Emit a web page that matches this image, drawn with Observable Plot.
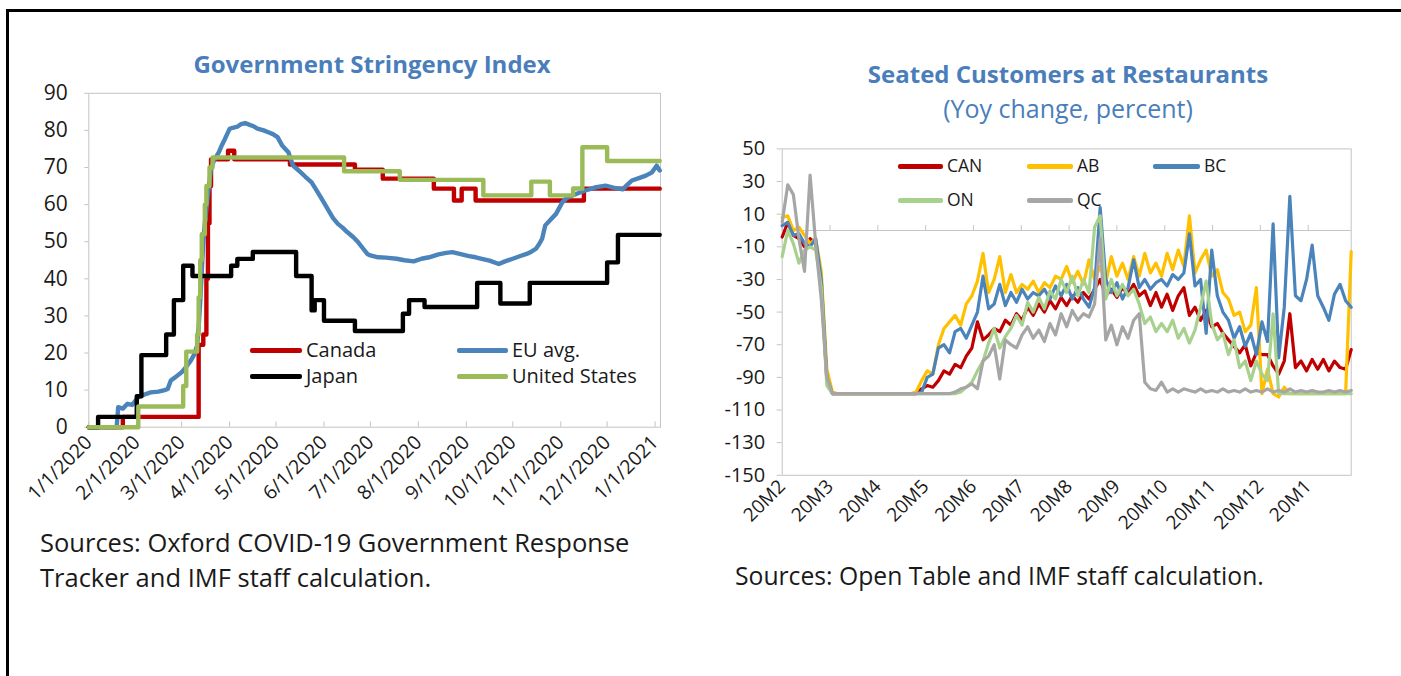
<!DOCTYPE html>
<html><head><meta charset="utf-8">
<script src="https://cdn.jsdelivr.net/npm/d3@7"></script>
<script src="https://cdn.jsdelivr.net/npm/@observablehq/plot@0.6"></script>
<style>
body{margin:0;background:#fff;font-family:"Open Sans",sans-serif;color:#1a1a1a;}
#page{position:relative;width:1401px;height:676px;overflow:hidden;background:#fff;}
.border{position:absolute;left:6px;top:9px;width:1420px;height:700px;border-top:3px solid #000;border-left:3px solid #000;}
.abs{position:absolute;white-space:nowrap;line-height:1;}
.ctr{transform:translate(-50%,-50%);}
.lft{transform:translate(0,-50%);}
.title{font-weight:700;color:#4a7ebb;}
.sw{position:absolute;height:5px;border-radius:2px;}
.plotbox{position:absolute;top:0;}
</style></head>
<body><div id="page"><div class="border"></div></div>
<script>
// ---------------- LEFT: Government Stringency Index ----------------
const leftTitle = "Government Stringency Index";
const leftSource = ["Sources: Oxford COVID-19 Government Response", "Tracker and IMF staff calculation."];
const leftTickDates = ["2020-01-01","2020-02-01","2020-03-01","2020-04-01","2020-05-01","2020-06-01","2020-07-01","2020-08-01","2020-09-01","2020-10-01","2020-11-01","2020-12-01","2021-01-01"];
const leftYTicks = [0,10,20,30,40,50,60,70,80,90];

const canada = [["2020-01-01",0],["2020-01-23",2.78],["2020-03-12",22.2],["2020-03-15",25],["2020-03-17",40],["2020-03-18",55],["2020-03-19",65],["2020-03-20",72.2],["2020-03-31",74.5],["2020-04-04",72.2],["2020-05-10",70.8],["2020-06-21",69.4],["2020-07-09",67],["2020-08-11",64.3],["2020-08-24",61.1],["2020-08-29",64.3],["2020-09-07",61.1],["2020-11-16",64.3],["2021-01-04",64.3]];
const euAvg = [["2020-01-01",0],["2020-01-19",0],["2020-01-20",5.4],["2020-01-23",5.0],["2020-01-26",6.3],["2020-01-29",6.0],["2020-02-02",8.1],["2020-02-06",8.8],["2020-02-10",9.4],["2020-02-15",9.6],["2020-02-19",10.0],["2020-02-21",10.3],["2020-02-23",12.6],["2020-02-26",13.5],["2020-03-01",14.8],["2020-03-04",16.3],["2020-03-07",18.0],["2020-03-09",19.5],["2020-03-11",22.0],["2020-03-12",27.0],["2020-03-13",33.7],["2020-03-14",42.0],["2020-03-15",49.9],["2020-03-16",55.0],["2020-03-17",58.9],["2020-03-18",63.0],["2020-03-20",69.6],["2020-03-22",72.0],["2020-03-25",74.1],["2020-03-27",76.0],["2020-03-29",77.7],["2020-04-01",80.4],["2020-04-03",80.7],["2020-04-06",81.0],["2020-04-08",81.6],["2020-04-11",82.0],["2020-04-14",81.5],["2020-04-16",81.2],["2020-04-19",80.5],["2020-04-23",80.0],["2020-04-26",79.5],["2020-04-29",79.0],["2020-05-02",78.2],["2020-05-05",75.9],["2020-05-07",75.0],["2020-05-09",74.1],["2020-05-12",70.5],["2020-05-14",69.8],["2020-05-17",68.7],["2020-05-20",67.5],["2020-05-24",66.0],["2020-05-28",63.3],["2020-06-01",60.5],["2020-06-04",58.4],["2020-06-07",56.3],["2020-06-10",54.8],["2020-06-13",53.8],["2020-06-16",52.6],["2020-06-20",51.2],["2020-06-23",49.9],["2020-06-26",48.3],["2020-06-29",46.7],["2020-07-01",46.3],["2020-07-06",45.8],["2020-07-11",45.7],["2020-07-18",45.4],["2020-07-23",45.0],["2020-07-29",44.7],["2020-08-03",45.4],["2020-08-08",45.8],["2020-08-14",46.6],["2020-08-19",47.0],["2020-08-23",47.2],["2020-08-29",46.6],["2020-09-02",46.2],["2020-09-07",45.8],["2020-09-11",45.4],["2020-09-16",44.9],["2020-09-22",44.0],["2020-09-26",44.7],["2020-10-01",45.4],["2020-10-05",46.0],["2020-10-10",46.7],["2020-10-13",47.3],["2020-10-16",48.1],["2020-10-18",49.3],["2020-10-20",50.8],["2020-10-22",54.4],["2020-10-26",56.2],["2020-10-29",57.5],["2020-11-02",60.6],["2020-11-05",61.8],["2020-11-09",62.5],["2020-11-13",63.2],["2020-11-17",63.8],["2020-11-23",64.6],["2020-11-30",65.1],["2020-12-05",64.6],["2020-12-11",64.1],["2020-12-14",65.3],["2020-12-17",66.5],["2020-12-22",67.2],["2020-12-26",67.8],["2020-12-30",68.7],["2021-01-02",70.5],["2021-01-04",69.2]];
const japan = [["2020-01-01",0],["2020-01-07",2.78],["2020-02-01",8.33],["2020-02-04",19.44],["2020-02-20",25],["2020-02-25",34.26],["2020-03-02",43.52],["2020-03-08",40.74],["2020-04-02",43.52],["2020-04-06",45.37],["2020-04-16",47.22],["2020-05-14",40.74],["2020-05-24",31.48],["2020-05-26",34.26],["2020-06-01",28.7],["2020-06-21",25.93],["2020-07-22",30.56],["2020-07-26",34.26],["2020-08-05",32.41],["2020-09-08",38.89],["2020-09-23",33.33],["2020-10-12",38.89],["2020-12-01",44.44],["2020-12-08",51.85],["2021-01-04",51.85]];
const unitedStates = [["2020-01-01",0],["2020-02-02",5.56],["2020-03-02",11.11],["2020-03-04",20.37],["2020-03-11",25],["2020-03-12",35],["2020-03-13",45],["2020-03-14",52],["2020-03-16",60],["2020-03-17",65],["2020-03-19",70],["2020-03-21",72.69],["2020-06-14",68.98],["2020-07-20",66.67],["2020-09-12",62.5],["2020-10-13",66.2],["2020-10-25",62.5],["2020-11-09",64.35],["2020-11-15",75.46],["2020-12-01",71.76],["2021-01-04",71.76]];

const leftSeries = [
  {name:"Canada", data:canada, color:"#c00000", curve:"step-after"},
  {name:"EU avg.", data:euAvg, color:"#4a84bb", curve:"linear"},
  {name:"Japan", data:japan, color:"#000000", curve:"step-after"},
  {name:"United States", data:unitedStates, color:"#9bbb59", curve:"step-after"}
];

// ---------------- RIGHT: Seated Customers at Restaurants ----------------
const rightTitle = "Seated Customers at Restaurants";
const rightSubtitle = "(Yoy change, percent)";
const rightSource = "Sources: Open Table and IMF staff calculation.";
const monthLabels = ["20M2","20M3","20M4","20M5","20M6","20M7","20M8","20M9","20M10","20M11","20M12","20M1"];
const monthTickDays = [0,30,60,90,120,150,180,210,240,270,300,330];
const rightYTicks = [50,30,10,-10,-30,-50,-70,-90,-110,-130,-150];
// days since 18 Feb 2020, sampled every half week
const days = d3.range(0, 357.1, 3.5);

const CAN = [-4,5,-3,-5,-10,-5,-8,-30,-92,-100,
 -100,-100,-100,-100,-100,-100,-100,-100,-100,-100,
 -100,-100,-100,-100,-100,-97,-95,-96,-92,-86,
 -88,-82,-84,-77,-72,-56,-67,-64,-60,-62,
 -55,-58,-51,-55,-47,-52,-45,-50,-43,-48,
 -41,-46,-40,-44,-38,-42,-36,-30,-40,-36,
 -41,-35,-39,-33,-40,-37,-46,-38,-47,-39,
 -49,-40,-35,-52,-47,-55,-49,-59,-57,-63,
 -67,-71,-75,-70,-83,-75,-76,-76,-83,-88,
 -80,-51,-84,-80,-86,-79,-85,-79,-86,-80,
 -84,-85,-73];
const AB = [8,9,0,2,-3,-8,-5,-25,-85,-99,
 -100,-100,-100,-100,-100,-100,-100,-100,-100,-100,
 -100,-100,-100,-100,-99,-92,-86,-88,-70,-60,
 -56,-52,-58,-45,-40,-31,-14,-38,-30,-16,
 -38,-27,-38,-33,-36,-31,-38,-32,-35,-28,
 -30,-22,-32,-25,-33,-18,-30,-22,-32,-16,
 -28,-20,-30,-16,-28,-14,-26,-20,-28,-14,
 -24,-12,-22,9,-26,-18,-12,-28,-24,-38,
 -42,-52,-50,-62,-58,-35,-100,-85,-100,-102,
 -96,-100,-100,-100,-100,-100,-100,-100,-100,-100,
 -100,-100,-13];
const BC = [3,5,-3,-2,-8,-10,-5,-30,-90,-100,
 -100,-100,-100,-100,-100,-100,-100,-100,-100,-100,
 -100,-100,-100,-100,-100,-99,-90,-88,-72,-70,
 -75,-62,-60,-66,-58,-50,-28,-48,-45,-33,
 -46,-38,-44,-36,-42,-38,-40,-36,-42,-34,
 -40,-33,-42,-35,-42,-47,-35,14,-30,-38,
 -32,-42,-35,-18,-35,-30,-36,-32,-30,-34,
 -27,-30,-26,-2,-34,-30,-63,-12,-40,-50,
 -55,-66,-59,-71,-63,-76,-56,-68,4,-78,
 -47,21,-40,-43,-30,-9,-40,-47,-55,-39,
 -33,-43,-47];
const ON = [-16,0,-8,-20,-12,-10,-12,-35,-95,-100,
 -100,-100,-100,-100,-100,-100,-100,-100,-100,-100,
 -100,-100,-100,-100,-100,-100,-100,-100,-100,-100,
 -100,-100,-99,-96,-93,-86,-80,-69,-60,-72,
 -65,-60,-52,-58,-44,-50,-41,-48,-37,-42,
 -30,-38,-28,-40,-30,-38,2,9,-42,-30,
 -40,-33,-40,-36,-45,-57,-53,-62,-57,-62,
 -55,-66,-60,-69,-61,-47,-31,-57,-67,-63,
 -76,-67,-84,-80,-92,-80,-88,-92,-51,-100,
 -100,-100,-100,-100,-100,-100,-100,-100,-100,-100,
 -100,-100,-100];
const QC = [5,28,22,-5,-25,34,-8,-42,-90,-100,
 -100,-100,-100,-100,-100,-100,-100,-100,-100,-100,
 -100,-100,-100,-100,-100,-100,-100,-100,-100,-100,
 -100,-99,-97,-96,-94,-97,-80,-77,-70,-91,
 -67,-70,-72,-64,-59,-66,-61,-68,-57,-64,
 -51,-59,-49,-55,-51,-53,-45,-5,-67,-58,
 -70,-59,-66,-55,-51,-93,-97,-98,-93,-99,
 -97,-99,-97,-98,-99,-97,-99,-98,-99,-97,
 -99,-98,-99,-97,-99,-98,-99,-97,-99,-98,
 -99,-97,-99,-98,-99,-98,-99,-99,-98,-99,
 -98,-99,-98];

const rightSeries = [
  {name:"CAN", values:CAN, color:"#c00000"},
  {name:"AB", values:AB, color:"#ffc000"},
  {name:"BC", values:BC, color:"#4a84bb"},
  {name:"ON", values:ON, color:"#a9d18e"},
  {name:"QC", values:QC, color:"#a6a6a6"}
];

// ---------------- drawing ----------------
const page = document.getElementById("page");
const parse = d3.utcParse("%Y-%m-%d");
const FONT = "'Open Sans', sans-serif";
const GRID = "#c4c4c4";

function addText(txt, x, y, cls, css){
  const d = document.createElement("div");
  d.className = "abs " + cls;
  d.textContent = txt;
  Object.assign(d.style, {left:x+"px", top:y+"px"}, css||{});
  page.appendChild(d);
  return d;
}
function addLegend(items, font){
  items.forEach(it => {
    const s = document.createElement("div");
    s.className = "sw";
    Object.assign(s.style, {left:it.x1+"px", width:(it.x2-it.x1)+"px", top:(it.y-2.5)+"px", background:it.color});
    page.appendChild(s);
    addText(it.name, it.x2+4, it.y, "lft", {fontSize:font+"px", color:"#1a1a1a"});
  });
}

const leftTicks = leftTickDates.map(parse);
const leftPlot = Plot.plot({
  width:700, height:520,
  marginLeft:88.3, marginRight:40, marginTop:92.8, marginBottom:520-426.7,
  x:{type:"utc", domain:[parse("2020-01-01"), new Date(Date.UTC(2021,0,4,12))], label:null},
  y:{domain:[0,90], label:null},
  style:{fontFamily:FONT, color:"#1a1a1a", background:"transparent", overflow:"visible"},
  marks:[
    Plot.frame({stroke:GRID}),
    Plot.axisY({ticks:leftYTicks, tickSize:4, tickPadding:17, fontSize:21, stroke:GRID, tickFormat:d=>String(d), label:null}),
    Plot.ruleX(leftTicks, {y1:0, y2:1.4, stroke:GRID}),
    Plot.axisX({ticks:leftTicks, tickSize:0, tickPadding:12, tickRotate:-45, fontSize:19.5, tickFormat:d3.utcFormat("%-m/%-d/%Y"), label:null}),
    ...leftSeries.map(s => Plot.line(s.data.map(([d,v]) => ({date:parse(d), value:v})), {x:"date", y:"value", stroke:s.color, strokeWidth:4.4, curve:s.curve}))
  ]
});
leftPlot.classList.add("plotbox");
leftPlot.style.left = "0px";
page.appendChild(leftPlot);

const rightPlot = Plot.plot({
  width:701, height:540,
  marginLeft:81.7, marginRight:701-650.7, marginTop:148.4, marginBottom:540-474.8,
  x:{domain:[0,357], label:null},
  y:{domain:[-150,50], label:null},
  style:{fontFamily:FONT, color:"#1a1a1a", background:"transparent", overflow:"visible"},
  marks:[
    Plot.frame({stroke:GRID}),
    Plot.ruleY([0], {stroke:GRID}),
    Plot.ruleX(monthTickDays, {y1:0, y2:3, stroke:GRID}),
    Plot.axisY({ticks:rightYTicks, tickSize:5, tickPadding:12, fontSize:20, stroke:GRID, tickFormat:d=>String(d), label:null}),
    Plot.axisX({ticks:monthTickDays, tickSize:0, tickPadding:8, tickRotate:-45, fontSize:19, tickFormat:d=>monthLabels[monthTickDays.indexOf(d)], label:null}),
    ...rightSeries.map(s => Plot.line(days.map((d,i)=>({day:d, value:s.values[i]})), {x:"day", y:"value", stroke:s.color, strokeWidth:3.2}))
  ]
});
rightPlot.classList.add("plotbox");
rightPlot.style.left = "700px";
page.appendChild(rightPlot);

// titles & captions
addText(leftTitle, 372, 64, "ctr title", {fontSize:24+"px"});
addText(rightTitle, 1068, 74, "ctr title", {fontSize:24+"px"});
addText(rightSubtitle, 1068, 108, "ctr", {fontSize:25+"px", color:"#4a7ebb"});
addText(leftSource[0], 40, 543, "lft", {fontSize:25.5+"px"});
addText(leftSource[1], 40, 578, "lft", {fontSize:25.5+"px"});
addText(rightSource, 735, 576, "lft", {fontSize:24.7+"px"});

// legends
const lp = [[250,302,350],[457,508,350],[250,302,376],[457,508,376]];
addLegend(leftSeries.map((s,i)=>({name:s.name, color:s.color, x1:lp[i][0], x2:lp[i][1], y:lp[i][2]})), 20);
const rp = [[898,943,166],[1027,1073,166],[1153,1200,166],[898,943,200],[1027,1073,200]];
addLegend(rightSeries.map((s,i)=>({name:s.name, color:s.color, x1:rp[i][0], x2:rp[i][1], y:rp[i][2]})), 17.5);
</script>
</body></html>
